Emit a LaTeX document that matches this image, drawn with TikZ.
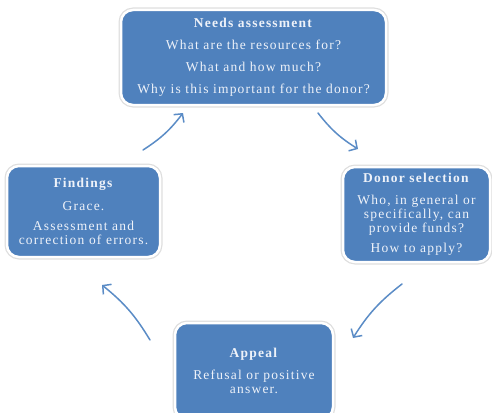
\documentclass[tikz,border=0pt]{standalone}
\usepackage{fontspec}
\setmainfont[LetterSpace=9]{Liberation Serif}
\usetikzlibrary{arrows.meta}
\definecolor{boxblue}{HTML}{4F81BD}
\definecolor{arrowblue}{HTML}{5B8CC6}
\definecolor{boxtext}{HTML}{EEF2F9}
\tikzset{
  stagebox/.style={draw=white, line width=2.5pt, fill=boxblue, rounded corners=12pt,
    preaction={draw=black!13, line width=5pt, rounded corners=12pt},
    text=boxtext, align=center, font=\fontsize{13.5}{14}\selectfont, inner sep=3pt},
  cyclearrow/.style={draw=arrowblue, line width=1.5pt, line cap=round,
    -{Straight Barb[length=6pt,width=13pt,line width=1.5pt]}},
}
\begin{document}
\begin{tikzpicture}[x=1pt,y=-1pt]
  \useasboundingbox (0,0) rectangle (492,412);
  \clip (0,0) rectangle (492,412);

  \node[stagebox, minimum width=265pt, minimum height=95pt] (needs) at (253.5,57.5)
    {\textbf{Needs assessment}\\[8pt] What are the resources for?\\[8pt] What and how much?\\[8pt] Why is this important for the donor?};
  \node[stagebox, minimum width=147pt, minimum height=95pt] (donor) at (416.5,214.5)
    {\textbf{Donor selection}\\[8pt] Who, in general or\\ specifically, can\\ provide funds?\\[6pt] How to apply?};
  \node[stagebox, minimum width=158pt, minimum height=96pt] (appeal) at (254,371)
    {\textbf{Appeal}\\[8pt] Refusal or positive\\ answer.};
  \node[stagebox, minimum width=153pt, minimum height=91pt] (findings) at (83.5,211.5)
    {\textbf{Findings}\\[9pt] Grace.\\[6pt] Assessment and\\ correction of errors.};

  \coordinate (nw1) at (143,150);
  \coordinate (nw2) at (183,113);
  \coordinate (ne1) at (318,113);
  \coordinate (ne2) at (358,149);
  \coordinate (se1) at (402,284);
  \coordinate (se2) at (353,338);
  \coordinate (sw1) at (150,340);
  \coordinate (sw2) at (102,285);

  \draw[cyclearrow] (nw1) to[bend right=10] (nw2);
  \draw[cyclearrow] (ne1) to[bend right=10] (ne2);
  \draw[cyclearrow] (se1) to[bend right=10] (se2);
  \draw[cyclearrow] (sw1) to[bend right=10] (sw2);
\end{tikzpicture}
\end{document}
